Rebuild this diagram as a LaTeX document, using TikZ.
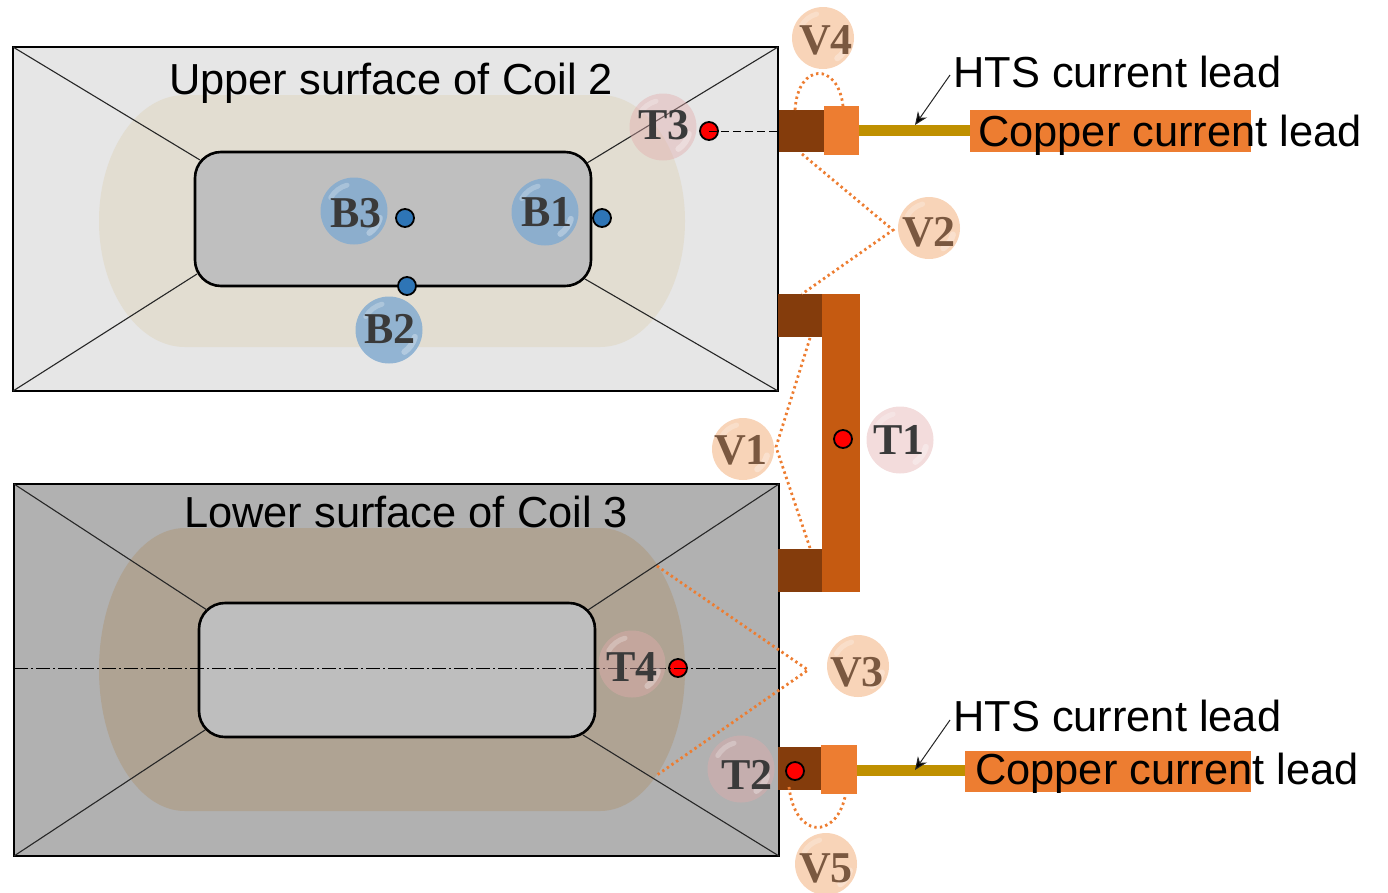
\documentclass[tikz,border=0pt]{standalone}
\usepackage{fontspec}
\setmainfont{Liberation Sans}
\newfontfamily\bubblefont{Liberation Serif}[Scale=1]
\usetikzlibrary{arrows.meta}
\definecolor{darkbrown}{HTML}{843C0C}
\definecolor{pad}{HTML}{ED7D31}
\definecolor{jumper}{HTML}{C55A11}
\definecolor{hts}{HTML}{BF9000}
\tikzset{
 block/.style={draw=none,inner sep=0pt,outer sep=0pt,anchor=north west},
 lbl/.style={anchor=base west,inner sep=0pt,font=\fontsize{43.4}{46}\selectfont,text=black},
 dotline/.style={draw=pad,line width=2.8pt,dash pattern=on 2.4pt off 3.2pt},
 thin line/.style={draw=black!85,line width=1.1pt},
 bubblebase/.style={circle,inner sep=0pt,minimum size=#1,
   path picture={
     \draw[white,opacity=.3,line width=6pt,line cap=round] ([shift={(-55:.40*#1)}]path picture bounding box.center) arc (-55:-15:.40*#1);
     \draw[white,opacity=.25,line width=5pt,line cap=round] ([shift={(105:.40*#1)}]path picture bounding box.center) arc (105:150:.40*#1);
   }},
 vb/.style={bubblebase=62pt,fill={rgb,255:red,248;green,212;blue,184}},
 tb/.style={bubblebase=67pt,fill={rgb,255:red,226;green,172;blue,172},fill opacity=.42},
 bb/.style={bubblebase=67pt,fill={rgb,255:red,132;green,172;blue,208},fill opacity=.85},
 vt/.style={inner sep=0pt,font=\bubblefont\bfseries\fontsize{44}{44}\selectfont,text={rgb,255:red,122;green,88;blue,64}},
 dt/.style={inner sep=0pt,font=\bubblefont\bfseries\fontsize{44}{44}\selectfont,text={rgb,255:red,58;green,58;blue,58}},
 reddot/.style={circle,draw=black,line width=1.8pt,fill=red,inner sep=0pt,minimum size=18pt},
 bluedot/.style={circle,draw=black,line width=1.8pt,fill={rgb,255:red,46;green,117;blue,182},inner sep=0pt,minimum size=18pt},
 hlead/.style={draw=black!85,line width=1pt,-{Stealth[length=13pt,width=11pt,fill=black]}},
}
\newcommand{\blk}[6]{\node[block,fill=#2,minimum width=#5pt-#3pt,minimum height=#6pt-#4pt] (#1) at (#3,#4) {};}
\begin{document}
\begin{tikzpicture}[x=1pt,y=-1pt]
\useasboundingbox (0,0) rectangle (1388,892);
% Upper coil
\node[block,draw=black,line width=2.5pt,fill={rgb,255:red,230;green,230;blue,230},minimum width=765pt,minimum height=344pt] (upper) at (13,47) {};
\fill[fill={rgb,255:red,226;green,221;blue,209}] (185,95) -- (600,95) arc[start angle=-90,end angle=90,x radius=85,y radius=126] -- (185,347) arc[start angle=90,end angle=270,x radius=86,y radius=126] -- cycle;
\node[block,draw=black,line width=2.6pt,fill={rgb,255:red,191;green,191;blue,191},rounded corners=26pt,minimum width=396pt,minimum height=134pt] (uin) at (195,152) {};
\draw[thin line] (upper.north west) -- (200,160);
\draw[thin line] (upper.north east) -- (587,163);
\draw[thin line] (upper.south west) -- (197,274);
\draw[thin line] (upper.south east) -- (585,279);
% Lower coil
\node[block,draw=black,line width=2.5pt,fill={rgb,255:red,177;green,177;blue,177},minimum width=765pt,minimum height=372pt] (lower) at (14,484) {};
\fill[fill={rgb,255:red,175;green,163;blue,147}] (185,528) -- (600,528) arc[start angle=-90,end angle=90,x radius=85,y radius=141.5] -- (185,811) arc[start angle=90,end angle=270,x radius=86,y radius=141.5] -- cycle;
\node[block,draw=black,line width=2.6pt,fill={rgb,255:red,190;green,190;blue,190},rounded corners=26pt,minimum width=396pt,minimum height=134pt] (lin) at (199,603) {};
\draw[thin line] (lower.north west) -- (207,610);
\draw[thin line] (lower.north east) -- (588,610);
\draw[thin line] (lower.south west) -- (205,730);
\draw[thin line] (lower.south east) -- (583,735);
% Titles
\node[lbl] (ut) at (169,94) {Upper surface of Coil 2};
\node[lbl] (lt) at (184,527) {Lower surface of Coil 3};
% Top lead
\blk{a1}{darkbrown}{779}{110}{824}{152}
\blk{a2}{pad}{824}{106}{859}{155}
\blk{a3}{hts}{859}{125}{970}{136}
\blk{a4}{pad}{970}{110}{1251}{152}
% Jumper
\blk{j1}{darkbrown}{778}{294}{822}{337}
\blk{j2}{jumper}{822}{294}{860}{592}
\blk{j3}{darkbrown}{778}{549}{822}{592}
% Bottom lead
\blk{c1}{darkbrown}{778}{747}{822}{790}
\blk{c2}{pad}{821}{745}{857}{794}
\blk{c3}{hts}{857}{765}{965}{776}
\blk{c4}{pad}{965}{751}{1251}{792}
% Lead labels
\node[lbl] (l1) at (978,146) {Copper current lead};
\node[lbl] (l2) at (975,784) {Copper current lead};
\node[lbl] (h1) at (953,87) {HTS current lead};
\node[lbl] (h2) at (953,731) {HTS current lead};
\coordinate (h1a) at (950,75); \coordinate (h1b) at (915,125);
\coordinate (h2a) at (950,720); \coordinate (h2b) at (915,770);
\draw[hlead] (h1a) -- (h1b);
\draw[hlead] (h2a) -- (h2b);
% Dots
\node[reddot] (r3) at (709,131) {};
\node[reddot] (r1) at (843,439) {};
\node[reddot] (r4) at (678,668) {};
\node[reddot] (r2) at (795,771) {};
\node[bluedot] (d3) at (405,218) {};
\node[bluedot] (d1) at (602,218) {};
\node[bluedot] (d2) at (407,286) {};
% Centre lines
\draw[black,line width=1pt,dash pattern=on 8pt off 4pt] (r3.center) -- (a1.west |- r3);
\draw[black,line width=1pt,dash pattern=on 14pt off 3pt on 2pt off 3pt] (lower.west |- r4) -- (lower.east |- r4);
% Dotted voltage taps
\coordinate (v4a) at (795,110); \coordinate (v4b) at (843,106);
\coordinate (v5a) at (789,787); \coordinate (v5b) at (845,797);
\coordinate (v2a) at (802,154); \coordinate (v2m) at (893,230); \coordinate (v2b) at (802,294);
\coordinate (v1a) at (810,338); \coordinate (v1m) at (776,447); \coordinate (v1b) at (810,548);
\coordinate (v3a) at (657,566); \coordinate (v3m) at (808,670); \coordinate (v3b) at (657,775);
\draw[dotline] (v4a) .. controls (798,62) and (838,62) .. (v4b);
\draw[dotline] (v5a) .. controls (795,838) and (835,840) .. (v5b);
\draw[dotline] (v2a) -- (v2m) -- (v2b);
\draw[dotline] (v1a) -- (v1m) -- (v1b);
\draw[dotline] (v3a) -- (v3m) -- (v3b);
% Bubbles
\node[vb] (V4) at (823,38) {};
\node[vb] (V2) at (929,228) {};
\node[vb] (V1) at (743,449) {};
\node[vb] (V3) at (858,666) {};
\node[vb] (V5) at (826,864) {};
\node[tb] (T3) at (663,127) {};
\node[tb] (T1) at (900,440) {};
\node[tb] (T4) at (632,664) {};
\node[tb] (T2) at (741,769) {};
\node[bb] (B3) at (354,211) {};
\node[bb] (B1) at (545,212) {};
\node[bb] (B2) at (389,330) {};
\node[vt] (V4t) at (826,40) {V4};
\node[vt] (V2t) at (929,232) {V2};
\node[vt] (V1t) at (741,450) {V1};
\node[vt] (V3t) at (857,672) {V3};
\node[vt] (V5t) at (826,868) {V5};
\node[dt] (T3t) at (664,125) {T3};
\node[dt] (T1t) at (899,440) {T1};
\node[dt] (T4t) at (632,667) {T4};
\node[dt] (T2t) at (747,775) {T2};
\node[dt] (B3t) at (356,213) {B3};
\node[dt] (B1t) at (547,212) {B1};
\node[dt] (B2t) at (390,329) {B2};
\end{tikzpicture}
\end{document}
